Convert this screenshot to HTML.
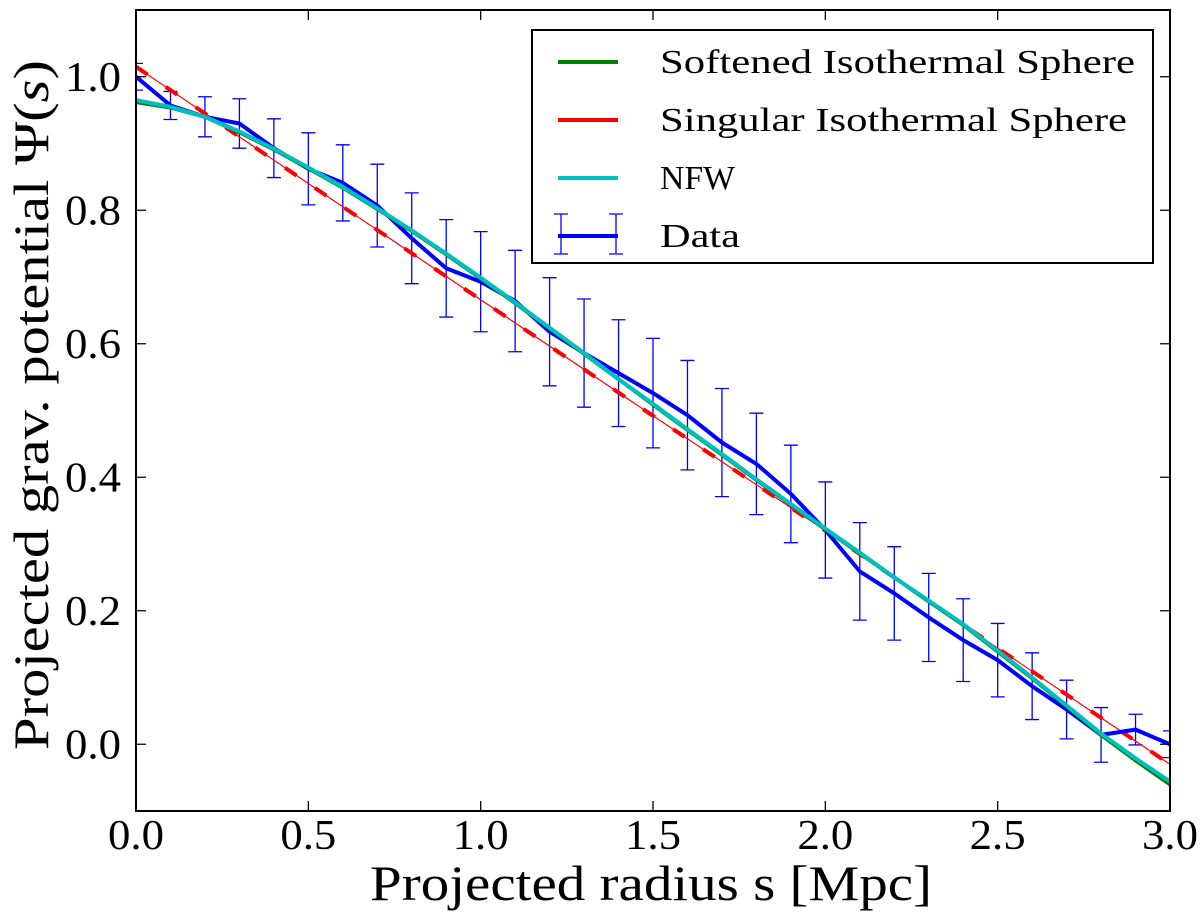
<!DOCTYPE html>
<html><head><meta charset="utf-8"><style>
body{margin:0;background:#fff;}
svg{display:block;font-family:"Liberation Serif",serif;}
</style></head><body>
<svg id="chart" width="1200" height="915" xmlns="http://www.w3.org/2000/svg">
<rect x="0" y="0" width="1200" height="915" fill="#fff"/>
<g id="plot"></g>
</svg>
<script>
const xs = [0,0.1,0.2,0.3,0.4,0.5,0.6,0.7,0.8,0.9,1.0,1.1,1.2,1.3,1.4,1.5,1.6,1.7,1.8,1.9,2.0,2.1,2.2,2.3,2.4,2.5,2.6,2.7,2.8,2.9,3.0];
const dataVals = [1.0,0.957,0.94,0.93,0.893,0.862,0.841,0.807,0.758,0.713,0.693,0.664,0.618,0.586,0.556,0.526,0.493,0.452,0.42,0.375,0.321,0.259,0.226,0.19,0.156,0.126,0.087,0.052,0.014,0.022,0.0];
const dataErr = [0.02,0.021,0.03,0.037,0.044,0.054,0.057,0.062,0.068,0.073,0.075,0.076,0.081,0.081,0.08,0.082,0.082,0.081,0.076,0.073,0.072,0.073,0.07,0.066,0.062,0.055,0.05,0.044,0.041,0.023,0.02];
const nfwVals = [0.965,0.955,0.94,0.918,0.892,0.864,0.835,0.803,0.77,0.735,0.699,0.662,0.624,0.586,0.547,0.51,0.472,0.435,0.397,0.36,0.323,0.287,0.25,0.215,0.18,0.14,0.1,0.058,0.016,-0.021,-0.056];
const sisVals = [0.962,0.954,0.94,0.917,0.891,0.863,0.834,0.802,0.769,0.734,0.698,0.661,0.623,0.585,0.547,0.509,0.471,0.434,0.396,0.359,0.322,0.286,0.25,0.214,0.179,0.139,0.099,0.057,0.014,-0.024,-0.06];
const singX = [0,0.5,1.0,1.5,2.0,2.5,3.0];
const singVals = [1.015,0.84,0.666,0.492,0.32,0.144,-0.03];
const xTicks = [0,0.5,1.0,1.5,2.0,2.5,3.0];
const xTickLabels = ["0.0","0.5","1.0","1.5","2.0","2.5","3.0"];
const yTicks = [0,0.2,0.4,0.6,0.8,1.0];
const yTickLabels = ["0.0","0.2","0.4","0.6","0.8","1.0"];

const L=136,R=1170,T=10,B=811;
const X=v=>L+(v-0)/3*(R-L);
const Y=v=>B-(v+0.1)/1.2*(B-T);
const NS="http://www.w3.org/2000/svg";
const g=document.getElementById('plot');
function mk(tag,attrs,parent){const e=document.createElementNS(NS,tag);for(const k in attrs)e.setAttribute(k,attrs[k]);(parent||g).appendChild(e);return e;}
function pathOf(xa,ya){return xa.map((x,i)=>(i?'L':'M')+X(x).toFixed(1)+' '+Y(ya[i]).toFixed(1)).join(' ');}

const clip=mk('clipPath',{id:'cp'});mk('rect',{x:L,y:T,width:R-L,height:B-T},clip);
const series=mk('g',{'clip-path':'url(#cp)'});



xs.forEach((x,i)=>{
  const e=mk('path',{d:`M${X(x)} ${Y(dataVals[i]-dataErr[i])}V${Y(dataVals[i]+dataErr[i])}M${X(x)-7} ${Y(dataVals[i]-dataErr[i])}h14M${X(x)-7} ${Y(dataVals[i]+dataErr[i])}h14`,stroke:'#0000ff','stroke-width':1.3,fill:'none'},series);
  
  
});
let p;
p=mk('path',{d:pathOf(singX,singVals),stroke:'#ff0000','stroke-width':1.2,fill:'none'},series);


p=mk('path',{d:pathOf(singX,singVals),stroke:'#ff0000','stroke-width':4,fill:'none','stroke-dasharray':'14 22'},series);


p=mk('path',{d:pathOf(xs,dataVals),stroke:'#0000ff','stroke-width':4,fill:'none','stroke-linejoin':'round'},series);


p=mk('path',{d:pathOf(xs,sisVals),stroke:'#008000','stroke-width':4,fill:'none'},series);


p=mk('path',{d:pathOf(xs,nfwVals),stroke:'#00bfbf','stroke-width':4,fill:'none'},series);



p=mk('rect',{x:L,y:T,width:R-L,height:B-T,fill:'none',stroke:'#000','stroke-width':2});


xTicks.forEach((v,i)=>{
  mk('path',{d:`M${X(v)} ${B}v-10M${X(v)} ${T}v10`,stroke:'#000','stroke-width':1.3});
  const t=mk('text',{x:X(v),y:849,'font-size':42,'text-anchor':'middle',textLength:56,lengthAdjust:'spacingAndGlyphs'});t.textContent=xTickLabels[i];
  
  
});
yTicks.forEach((v,i)=>{
  mk('path',{d:`M${L} ${Y(v)}h10M${R} ${Y(v)}h-10`,stroke:'#000','stroke-width':1.3});
  const t=mk('text',{x:121,y:Y(v)+14,'font-size':42,'text-anchor':'end',textLength:56,lengthAdjust:'spacingAndGlyphs'});t.textContent=yTickLabels[i];
  
  
});
let t=mk('text',{x:370,y:900,'font-size':50,textLength:562,lengthAdjust:'spacingAndGlyphs'});t.textContent='Projected radius s [Mpc]';


t=mk('text',{x:0,y:0,'font-size':50,textLength:690,lengthAdjust:'spacingAndGlyphs',transform:'translate(48,750) rotate(-90)'});
t.innerHTML='Projected grav. potential Ψ(<tspan font-style="italic">s</tspan>)';



const lg=mk('g',{});


mk('rect',{x:532,y:30,width:621,height:233,fill:'#fff',stroke:'#000','stroke-width':2},lg);
const legNames=['Softened Isothermal Sphere','Singular Isothermal Sphere','NFW','Data'];
const legLens=[475,467,75,80];
const legCols=['#008000','#ff0000','#00bfbf','#0000ff'];
const legKeys=['legend-softened','legend-singular','legend-nfw','legend-data'];
legNames.forEach((n,i)=>{
  const y=62+i*58;
  const e=mk('g',{},lg);
  
  
  mk('path',{d:`M558 ${y}h60`,stroke:legCols[i],'stroke-width':4},e);
  if(i===3){mk('path',{d:`M561 ${y-22}v40M616 ${y-22}v40M554 ${y-22}h14M554 ${y+18}h14M609 ${y-22}h14M609 ${y+18}h14`,stroke:'#0000ff','stroke-width':1.3,fill:'none'},e);}
  const tt=mk('text',{x:660,y:y+11,'font-size':34,textLength:legLens[i],lengthAdjust:'spacingAndGlyphs'},e);tt.textContent=n;
});
</script>
</body></html>
